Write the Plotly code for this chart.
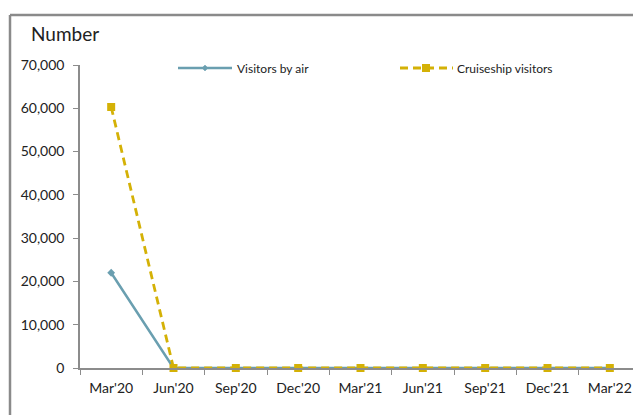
import plotly.graph_objects as go

categories = ["Mar'20", "Jun'20", "Sep'20", "Dec'20", "Mar'21", "Jun'21", "Sep'21", "Dec'21", "Mar'22"]
visitors_by_air = [22000, 0, 0, 0, 0, 0, 0, 0, 0]
cruiseship_visitors = [60300, 0, 0, 0, 0, 0, 0, 0, 0]
y_ticks = [0, 10000, 20000, 30000, 40000, 50000, 60000, 70000]
series_names = ["Visitors by air", "Cruiseship visitors"]

FONT = "Lato, 'Open Sans', sans-serif"
AX = "#8c8c8c"
AIR = "#6a9fb0"
CRUISE = "#d4b106"
DASH = "8px,5px"

# page has an 8px body margin; plot area spans x 80..641, y 65..368 on the page
OFF = 8
PL, PR, PT, PB = 80, 641, 65, 368
def px(x):
    return (x - PL) / (PR - PL)
def py(y):
    return (PB - y) / (PB - PT)

fig = go.Figure()
fig.add_trace(go.Scatter(
    x=categories, y=visitors_by_air, name=series_names[0], mode="lines+markers",
    line=dict(color=AIR, width=2.5), cliponaxis=False,
    marker=dict(symbol="diamond", size=6, color=AIR),
))
fig.add_trace(go.Scatter(
    x=categories, y=cruiseship_visitors, name=series_names[1], mode="lines+markers",
    line=dict(color=CRUISE, width=2.8, dash=DASH), cliponaxis=False,
    marker=dict(symbol="square", size=8, color=CRUISE),
))

ly = py(68)
shapes = [
    # chart frame
    dict(type="line", xref="paper", yref="paper", x0=px(10), x1=px(650),
         y0=py(15), y1=py(15), line=dict(color="#8a8a8a", width=2.5)),
    dict(type="line", xref="paper", yref="paper", x0=px(10), x1=px(10),
         y0=py(15), y1=py(425), line=dict(color="#8a8a8a", width=2.5)),
    # legend: visitors by air
    dict(type="line", xref="paper", yref="paper", x0=px(178), x1=px(232), y0=ly, y1=ly,
         line=dict(color=AIR, width=2.5)),
    dict(type="path", xref="paper", yref="paper", xsizemode="pixel", ysizemode="pixel",
         xanchor=px(205), yanchor=ly, path="M0,3 L3,0 L0,-3 L-3,0 Z",
         fillcolor=AIR, line=dict(color=AIR, width=0.5)),
    # legend: cruiseship
    dict(type="line", xref="paper", yref="paper", x0=px(400), x1=px(453), y0=ly, y1=ly,
         line=dict(color=CRUISE, width=2.8, dash=DASH)),
    dict(type="rect", xref="paper", yref="paper", xsizemode="pixel", ysizemode="pixel",
         xanchor=px(426), yanchor=ly, x0=-4, x1=4, y0=-4, y1=4,
         fillcolor=CRUISE, line=dict(color=CRUISE, width=0)),
]

annotations = [
    dict(text="Number", xref="paper", yref="paper", x=px(29), y=py(33),
         xanchor="left", yanchor="middle", showarrow=False,
         font=dict(size=19, family=FONT, color="#222")),
    dict(text=series_names[0], xref="paper", yref="paper", x=px(235), y=ly,
         xanchor="left", yanchor="middle", showarrow=False,
         font=dict(size=12, family=FONT, color="#222")),
    dict(text=series_names[1], xref="paper", yref="paper", x=px(455), y=ly,
         xanchor="left", yanchor="middle", showarrow=False,
         font=dict(size=12, family=FONT, color="#222")),
]

fig.update_layout(
    width=641 - OFF, height=415 - OFF,
    margin=dict(l=PL - OFF, r=0, t=PT - OFF, b=415 - PB, pad=0),
    paper_bgcolor="white", plot_bgcolor="white",
    font=dict(family=FONT, color="#222", size=14),
    showlegend=False,
    xaxis=dict(
        type="category", range=[-0.5, 8.5], tickson="boundaries",
        ticks="outside", ticklen=5, tickcolor=AX, showline=True, linecolor=AX, linewidth=1.5,
        showgrid=False, tickfont=dict(size=14), zeroline=False, ticklabelstandoff=6,
    ),
    yaxis=dict(
        range=[0, 70000], tickvals=y_ticks, tickformat=",", ticks="outside", ticklen=5,
        tickcolor=AX, showline=True, linecolor=AX, linewidth=1.5, showgrid=False,
        zeroline=False, tickfont=dict(size=14), ticklabelstandoff=6,
    ),
    annotations=annotations,
    shapes=shapes,
)

fig.write_html("out.html")
